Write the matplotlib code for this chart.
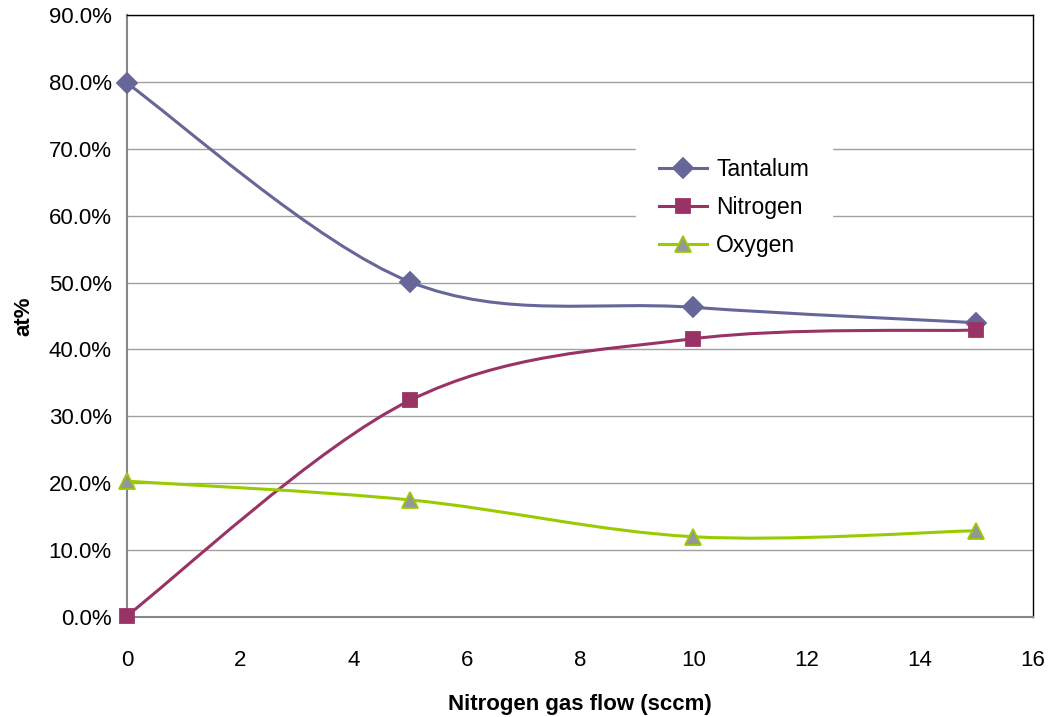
import numpy as np
import matplotlib.pyplot as plt
from matplotlib.path import Path
from matplotlib.patches import PathPatch
from matplotlib.ticker import FuncFormatter
from matplotlib.lines import Line2D

# data
flow = [0, 5, 10, 15]
tantalum = [79.8, 50.1, 46.3, 44.0]
nitrogen = [0.2, 32.4, 41.6, 42.9]
oxygen = [20.3, 17.5, 12.0, 12.9]

plt.rcParams['font.family'] = ['Liberation Sans', 'DejaVu Sans']


def smooth_path(x, y):
    # Excel style smoothed line: cubic bezier through the points
    pts = np.column_stack([x, y]).astype(float)
    verts = [pts[0]]
    codes = [Path.MOVETO]
    n = len(pts)
    for i in range(n - 1):
        p0 = pts[i - 1] if i > 0 else pts[i]
        p1 = pts[i]
        p2 = pts[i + 1]
        p3 = pts[i + 2] if i + 2 < n else pts[i + 1]
        c1 = p1 + (p2 - p0) / 6.0
        c2 = p2 - (p3 - p1) / 6.0
        verts += [c1, c2, p2]
        codes += [Path.CURVE4] * 3
    return Path(verts, codes)


fig = plt.figure(figsize=(10.54, 7.17), dpi=100)
ax = fig.add_axes([0.1205, 0.1395, 0.8595, 0.8395])

series = [
    ('Tantalum', tantalum, '#666699', 'D', '#666699', '#666699', 10.5),
    ('Nitrogen', nitrogen, '#993366', 's', '#993366', '#993366', 10),
    ('Oxygen', oxygen, '#99CC00', '^', '#969696', '#99CC00', 11),
]
handles = []
for name, vals, col, mk, fc, ec, ms in series:
    ax.add_patch(PathPatch(smooth_path(flow, vals), facecolor='none',
                           edgecolor=col, lw=2.2, zorder=3))
    ax.plot(flow, vals, ls='none', marker=mk, ms=ms, mfc=fc, mec=ec,
            mew=1.3, zorder=4, clip_on=False)
    handles.append(Line2D([], [], color=col, lw=2.2, marker=mk, ms=ms,
                          mfc=fc, mec=ec, mew=1.3))

ax.set_xlim(0, 16)
ax.set_ylim(0, 90)
ax.set_xticks(range(0, 17, 2))
ax.set_yticks(range(0, 91, 10))
ax.yaxis.set_major_formatter(FuncFormatter(lambda v, p: f'{v:.1f}%'))
ax.grid(axis='y', color='#a0a0a0', lw=1)
ax.set_axisbelow(True)
ax.tick_params(length=0, labelsize=16)
ax.tick_params(axis='y', pad=11)
ax.tick_params(axis='x', pad=24)
for s in ['left', 'bottom']:
    ax.spines[s].set_color('#868686')
    ax.spines[s].set_linewidth(1.5)
for s in ['top', 'right']:
    ax.spines[s].set_color('black')
    ax.spines[s].set_linewidth(1)

ax.set_xlabel('Nitrogen gas flow (sccm)', fontsize=16, fontweight='bold',
              labelpad=16)
ax.set_ylabel('at%', fontsize=16, fontweight='bold', labelpad=10)

leg = ax.legend(handles, ['Tantalum', 'Nitrogen', 'Oxygen'],
                loc='upper left', bbox_to_anchor=(0.562, 0.80),
                frameon=True, fancybox=False, fontsize=16.5, handlelength=2.1,
                labelspacing=0.65, borderpad=1.0, handletextpad=0.4,
                borderaxespad=0)
leg.get_frame().set_edgecolor('white')
leg.get_frame().set_facecolor('white')
leg.get_frame().set_alpha(1)

fig.savefig('out.png', dpi=100)
